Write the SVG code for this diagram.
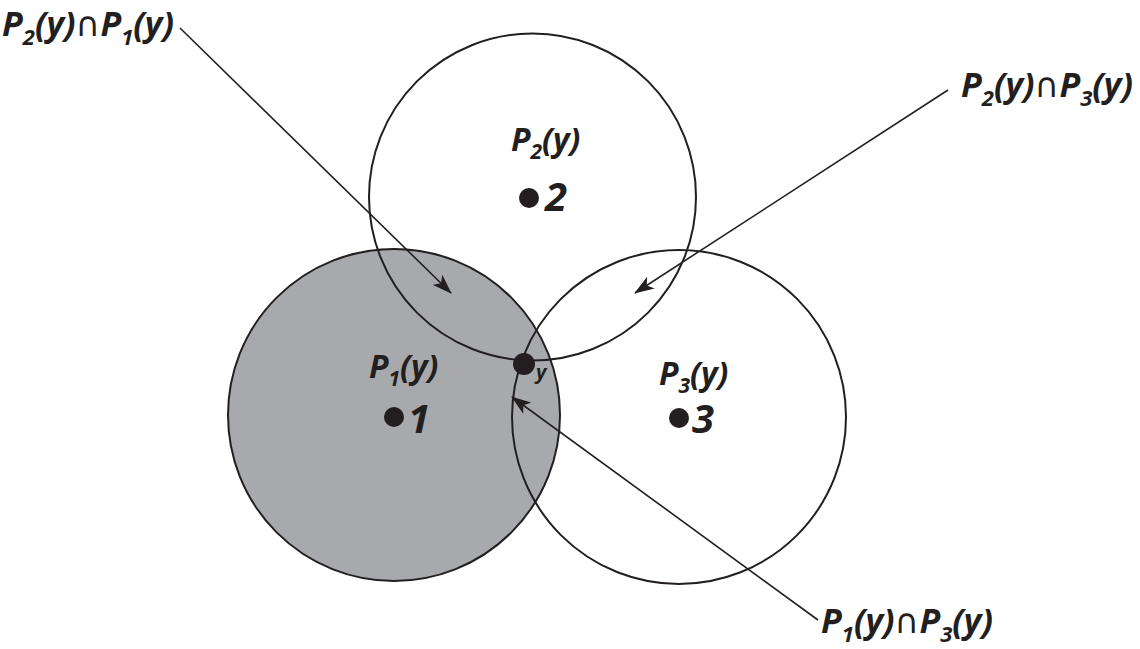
<svg xmlns="http://www.w3.org/2000/svg" width="1140" height="649" viewBox="0 0 1140 649">
<style>
.c{stroke:#231f20;stroke-width:2}
.t{font-family:"Open Sans","Noto Sans",sans-serif;font-weight:700;font-style:italic;fill:#231f20}
.ln{stroke:#231f20;stroke-width:1.6;fill:none}
.cap{font-family:"DejaVu Sans",sans-serif;font-style:normal;font-weight:400}
</style>
<defs>
<marker id="ah" viewBox="0 0 20 14" refX="19" refY="7" markerWidth="20" markerHeight="14" markerUnits="userSpaceOnUse" orient="auto">
<path d="M0,0 L20,7 L0,14 L5,7 Z" fill="#231f20"/>
</marker>
</defs>
<rect width="1140" height="649" fill="#fff"/>
<g id="node1">
<circle class="c" cx="394" cy="415" r="166" fill="#a7a9ac"/>
</g>
<g id="node2">
<circle class="c" cx="532.5" cy="197" r="163.5" fill="none"/>
</g>
<g id="node3">
<circle class="c" cx="679" cy="417" r="167" fill="none"/>
</g>
<g id="labels">
<text class="t" x="511" y="151" font-size="32">P<tspan font-size="21" dy="8">2</tspan><tspan dy="-8">(y)</tspan></text>
<circle cx="529" cy="198" r="10" fill="#231f20"/>
<text class="t" x="545" y="211" font-size="40">2</text>
<text class="t" x="369" y="378" font-size="32">P<tspan font-size="21" dy="8">1</tspan><tspan dy="-8">(y)</tspan></text>
<circle cx="394" cy="417" r="10" fill="#231f20"/>
<text class="t" x="408" y="433" font-size="40">1</text>
<text class="t" x="659" y="385" font-size="32">P<tspan font-size="21" dy="8">3</tspan><tspan dy="-8">(y)</tspan></text>
<circle cx="679" cy="418" r="10" fill="#231f20"/>
<text class="t" x="692" y="433" font-size="40">3</text>
<circle cx="524" cy="364" r="11" fill="#231f20"/>
<text class="t" x="536" y="379" font-size="20">y</text>
</g>
<g id="connectors">
<line class="ln" x1="180" y1="28" x2="451" y2="293" marker-end="url(#ah)"/>
<line class="ln" x1="948" y1="90" x2="635" y2="293" marker-end="url(#ah)"/>
<line class="ln" x1="818" y1="620" x2="512" y2="397" marker-end="url(#ah)"/>
</g>
<g id="callouts">
<text class="t" x="2" y="36" font-size="34">P<tspan font-size="22" dy="9">2</tspan><tspan dy="-9">(y)</tspan><tspan class="cap">∩</tspan>P<tspan font-size="22" dy="9">1</tspan><tspan dy="-9">(y)</tspan></text>
<text class="t" x="961" y="97" font-size="34">P<tspan font-size="22" dy="9">2</tspan><tspan dy="-9">(y)</tspan><tspan class="cap">∩</tspan>P<tspan font-size="22" dy="9">3</tspan><tspan dy="-9">(y)</tspan></text>
<text class="t" x="821" y="633" font-size="34">P<tspan font-size="22" dy="9">1</tspan><tspan dy="-9">(y)</tspan><tspan class="cap">∩</tspan>P<tspan font-size="22" dy="9">3</tspan><tspan dy="-9">(y)</tspan></text>
</g>
</svg>
